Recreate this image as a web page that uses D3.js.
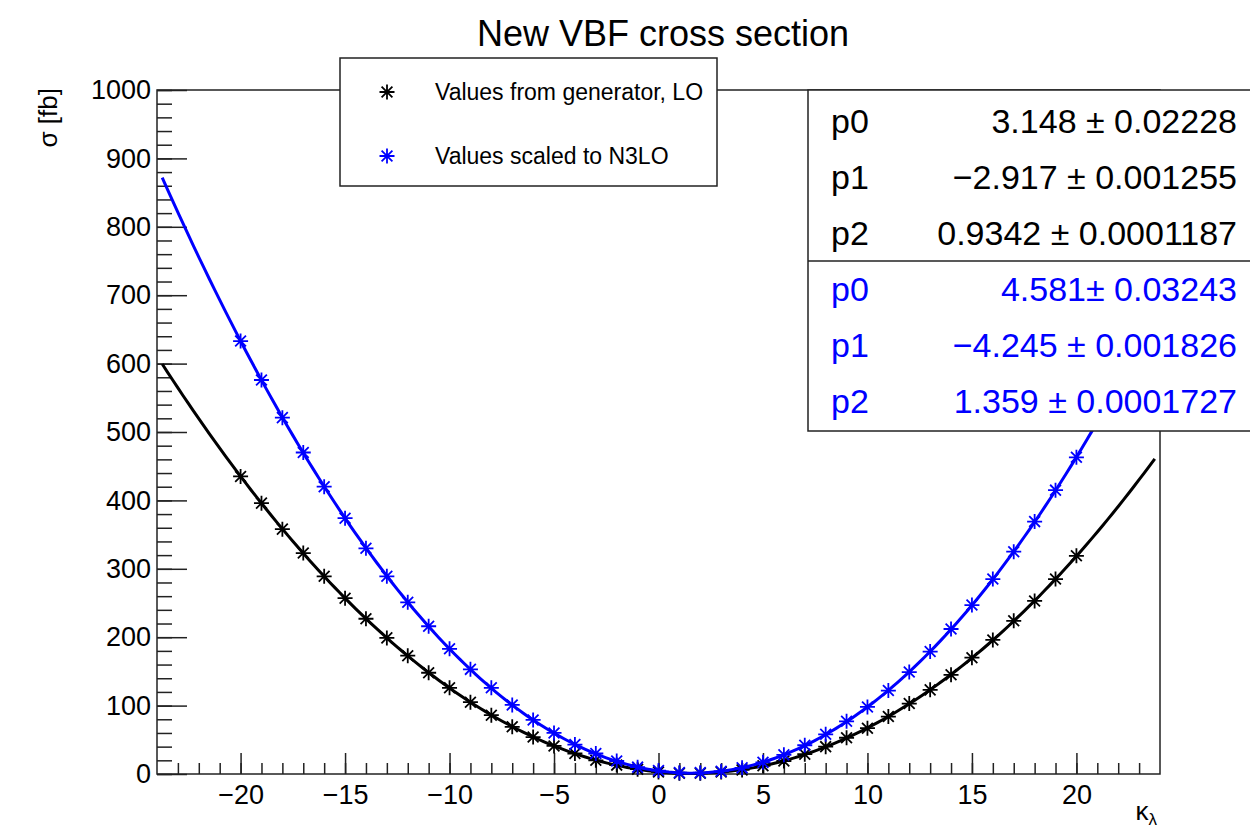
<!DOCTYPE html>
<html>
<head>
<meta charset="utf-8">
<script src="https://cdn.jsdelivr.net/npm/d3@7"></script>
<style>
  body { margin: 0; background: #fff; }
  svg { display: block; }
</style>
</head>
<body>
<script>
// data
const kappa = [-20, -19, -18, -17, -16, -15, -14, -13, -12, -11, -10, -9, -8, -7, -6, -5, -4, -3, -2, -1,
  0, 1, 2, 3, 4, 5, 6, 7, 8, 9, 10, 11, 12, 13, 14, 15, 16, 17, 18, 19, 20];
const sigmaLO = [435, 396, 358, 323, 289, 257, 227, 199, 173, 148, 126, 105, 86, 69, 54, 41, 30, 20, 13, 7,
  3, 1, 1, 3, 6, 12, 19, 29, 40, 53, 67, 84, 103, 123, 145, 170, 196, 224, 253, 285, 319];
const sigmaN3LO = [633, 576, 521, 470, 420, 374, 330, 289, 251, 216, 183, 153, 126, 101, 79, 60, 43, 30, 19, 10,
  5, 2, 2, 4, 9, 17, 28, 42, 58, 77, 98, 122, 149, 179, 212, 247, 285, 325, 369, 415, 463];

// pol2 fit results shown in the stats box
const fitLO = [3.148, -2.917, 0.9342];
const fitN3LO = [4.581, -4.245, 1.359];
const fitLabelsLO = ["3.148 \u00b1 0.02228", "\u22122.917 \u00b1 0.001255", "0.9342 \u00b1 0.0001187"];
const fitLabelsN3LO = ["4.581\u00b1 0.03243", "\u22124.245 \u00b1 0.001826", "1.359 \u00b1 0.0001727"];
const fitRange = [-23.75, 23.75];

const seriesNames = ["Values from generator, LO", "Values scaled to N3LO"];
const seriesColors = ["#000000", "#0000ff"];

const width = 1250;
const height = 830;
const font = "'Liberation Sans', Arial, Helvetica, sans-serif";
const frame = { left: 157, right: 1160, top: 90, bottom: 774 };

const xScale = d3.scaleLinear([-24, 24], [frame.left, frame.right]);
const yScale = d3.scaleLinear([0, 1000], [frame.bottom, frame.top]);

const svg = d3.select("body").append("svg")
  .attr("width", width)
  .attr("height", height)
  .attr("viewBox", [0, 0, width, height]);

// title
svg.append("text")
  .attr("x", 663)
  .attr("y", 46)
  .attr("text-anchor", "middle")
  .attr("font-family", font)
  .attr("font-size", 36)
  .text("New VBF cross section");

// minor ticks
svg.append("g")
  .attr("transform", `translate(0,${frame.bottom})`)
  .call(d3.axisBottom(xScale).tickValues(d3.range(-23, 24)).tickSizeInner(-11).tickSizeOuter(0).tickFormat(""))
  .call((g) => g.select(".domain").remove());
svg.append("g")
  .attr("transform", `translate(${frame.left},0)`)
  .call(d3.axisLeft(yScale).tickValues(d3.range(0, 1001, 20)).tickSizeInner(-15).tickSizeOuter(0).tickFormat(""))
  .call((g) => g.select(".domain").remove());

// major ticks + labels
svg.append("g")
  .attr("transform", `translate(0,${frame.bottom})`)
  .call(d3.axisBottom(xScale).tickValues(d3.range(-20, 21, 5)).tickSizeInner(-21).tickSizeOuter(0).tickPadding(11))
  .call((g) => g.select(".domain").remove())
  .call((g) => g.selectAll(".tick text").attr("font-size", 27).attr("font-family", font).attr("fill", "#000"));
svg.append("g")
  .attr("transform", `translate(${frame.left},0)`)
  .call(d3.axisLeft(yScale).tickValues(d3.range(0, 1001, 100)).tickFormat(d3.format("d"))
    .tickSizeInner(-30).tickSizeOuter(0).tickPadding(6))
  .call((g) => g.select(".domain").remove())
  .call((g) => g.selectAll(".tick text").attr("font-size", 27).attr("font-family", font).attr("fill", "#000"));

svg.selectAll(".tick line").attr("stroke", "#222").attr("stroke-width", 1.5);

// frame
svg.append("rect")
  .attr("x", frame.left)
  .attr("y", frame.top)
  .attr("width", frame.right - frame.left)
  .attr("height", frame.bottom - frame.top)
  .attr("fill", "none")
  .attr("stroke", "#222")
  .attr("stroke-width", 1.5);

// axis titles
svg.append("text")
  .attr("transform", `translate(57,${frame.top - 2}) rotate(-90)`)
  .attr("text-anchor", "end")
  .attr("font-family", font)
  .attr("font-size", 26)
  .text("\u03c3 [fb]");

const xTitle = svg.append("text")
  .attr("x", 1157)
  .attr("y", 820)
  .attr("text-anchor", "end")
  .attr("font-family", font)
  .attr("font-size", 26);
xTitle.append("tspan").text("\u03ba");
xTitle.append("tspan").attr("font-size", 17).attr("dy", 5).text("\u03bb");

// asterisk marker (ROOT style 3)
function star(r) {
  const d = r * 0.72;
  return `M${-r},0H${r}M0,${-r}V${r}M${-d},${-d}L${d},${d}M${-d},${d}L${d},${-d}`;
}

const fits = [fitLO, fitN3LO];
const values = [sigmaLO, sigmaN3LO];
const line = d3.line().x((d) => xScale(d[0])).y((d) => yScale(d[1]));
const xs = d3.range(fitRange[0], fitRange[1] + 0.001, 0.25);

values.forEach((vals, s) => {
  const p = fits[s];
  // markers
  svg.append("g")
    .selectAll("path")
    .data(kappa)
    .join("path")
    .attr("transform", (k, i) => `translate(${xScale(k)},${yScale(vals[i])})`)
    .attr("d", star(7.5))
    .attr("stroke", seriesColors[s])
    .attr("stroke-width", 1.8)
    .attr("fill", "none");
  // fitted pol2
  svg.append("path")
    .datum(xs.map((x) => [x, p[0] + p[1] * x + p[2] * x * x]))
    .attr("d", line)
    .attr("fill", "none")
    .attr("stroke", seriesColors[s])
    .attr("stroke-width", 3);
});

// legend
const legend = svg.append("g");
legend.append("rect")
  .attr("x", 340)
  .attr("y", 58)
  .attr("width", 377)
  .attr("height", 128)
  .attr("fill", "#fff")
  .attr("stroke", "#222")
  .attr("stroke-width", 1.5);
seriesNames.forEach((name, i) => {
  const yy = 92 + i * 64;
  legend.append("path")
    .attr("transform", `translate(387,${yy})`)
    .attr("d", star(7.5))
    .attr("stroke", seriesColors[i])
    .attr("stroke-width", 1.8)
    .attr("fill", "none");
  legend.append("text")
    .attr("x", 435)
    .attr("y", yy)
    .attr("dy", "0.35em")
    .attr("font-family", font)
    .attr("font-size", 23)
    .text(name);
});

// stats box
const stats = svg.append("g");
stats.append("rect")
  .attr("x", 808)
  .attr("y", 90)
  .attr("width", 460)
  .attr("height", 341)
  .attr("fill", "#fff")
  .attr("stroke", "#222")
  .attr("stroke-width", 1.5);
stats.append("line")
  .attr("x1", 808)
  .attr("x2", 1260)
  .attr("y1", 261)
  .attr("y2", 261)
  .attr("stroke", "#222")
  .attr("stroke-width", 1.5);
[fitLabelsLO, fitLabelsN3LO].forEach((labels, s) => {
  labels.forEach((lab, i) => {
    const yy = 133 + (s * 3 + i) * 56;
    stats.append("text")
      .attr("x", 831)
      .attr("y", yy)
      .attr("font-family", font)
      .attr("font-size", 34)
      .attr("fill", seriesColors[s])
      .text("p" + i);
    stats.append("text")
      .attr("x", 1237)
      .attr("y", yy)
      .attr("text-anchor", "end")
      .attr("font-family", font)
      .attr("font-size", 34)
      .attr("fill", seriesColors[s])
      .text(lab);
  });
});
</script>
</body>
</html>
